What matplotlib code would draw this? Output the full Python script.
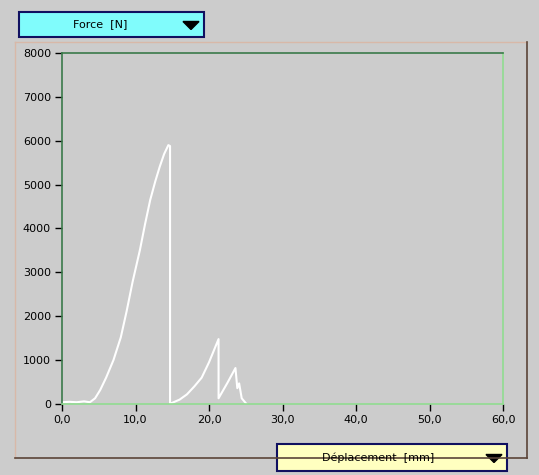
import matplotlib
matplotlib.use('Agg')
import matplotlib.pyplot as plt
from matplotlib.patches import Rectangle, Polygon
from matplotlib.lines import Line2D

# force / displacement trace
disp = [0, 1, 2, 3, 3.8, 4.5, 5.2, 6.0, 7.0, 8.0, 8.8, 9.6, 10.6, 11.3, 12.0, 12.7, 13.3, 13.9, 14.47, 14.7, 14.7,
        14.9, 16, 17, 18, 19, 20, 21.3, 21.3, 22.5, 23.6, 23.85, 24.1, 24.45, 25.1]
force = [40, 50, 40, 60, 40, 130, 320, 600, 1000, 1520, 2120, 2780, 3510, 4100, 4650, 5080, 5410, 5700, 5900, 5880, 0,
         20, 100, 220, 400, 600, 950, 1480, 130, 480, 820, 360, 470, 130, 0]

xticks = [0, 10, 20, 30, 40, 50, 60]
xlabels = ['0,0', '10,0', '20,0', '30,0', '40,0', '50,0', '60,0']
yticks = [0, 1000, 2000, 3000, 4000, 5000, 6000, 7000, 8000]

W, H = 539, 475
bg = '#cccccc'
fig = plt.figure(figsize=(W / 100, H / 100), dpi=100, facecolor=bg)

def px(x, y, w, h):
    # pixel box (top-left origin) -> figure fraction
    return (x / W, 1 - (y + h) / H, w / W, h / H)

# outer frame
fx, fy, fw, fh = px(15, 42, 512, 416)
fig.add_artist(Line2D([fx, fx + fw], [fy + fh, fy + fh], color='#d8b8a8', lw=1, transform=fig.transFigure))
fig.add_artist(Line2D([fx, fx], [fy, fy + fh], color='#d8b8a8', lw=1, transform=fig.transFigure))
fig.add_artist(Line2D([fx + fw, fx + fw], [fy, fy + fh], color='#5a4438', lw=1.2, transform=fig.transFigure))
fig.add_artist(Line2D([fx, fx + fw], [fy, fy], color='#5a4438', lw=1.2, transform=fig.transFigure))

ax = fig.add_axes(px(62, 53, 441, 351))
ax.set_facecolor(bg)
ax.plot(disp, force, color='white', lw=1.5)
ax.set_xlim(0, 60)
ax.set_ylim(0, 8000)
ax.set_xticks(xticks)
ax.set_xticklabels(xlabels)
ax.set_yticks(yticks)
ax.tick_params(direction='out', length=5, width=1, labelsize=8, colors='black', pad=3)
ax.spines['left'].set_color('#3a7a4a')
ax.spines['top'].set_color('#3a7a4a')
ax.spines['bottom'].set_color('#90dc90')
ax.spines['right'].set_color('#90dc90')
for s in ax.spines.values():
    s.set_linewidth(1.2)

def button(x, y, w, h, fill, label, tx):
    r = Rectangle(px(x, y, w, h)[:2], w / W, h / H, transform=fig.transFigure,
                  facecolor=fill, edgecolor='#101060', lw=1.5)
    fig.add_artist(r)
    fig.text(tx / W, 1 - (y + h / 2) / H, label, ha='center', va='center', fontsize=8)
    cx, cy = x + w - 13, y + h / 2
    tri = Polygon([((cx - 8) / W, 1 - (cy - 3) / H), ((cx + 8) / W, 1 - (cy - 3) / H),
                   (cx / W, 1 - (cy + 5) / H)], closed=True, transform=fig.transFigure,
                  facecolor='black', edgecolor='black')
    fig.add_artist(tri)

button(19, 12, 185, 25, '#80fcfc', 'Force  [N]', 100)
button(277, 444, 230, 27, '#ffffc0', 'Déplacement  [mm]', 378)

fig.savefig('out.png', dpi=100, facecolor=bg)
